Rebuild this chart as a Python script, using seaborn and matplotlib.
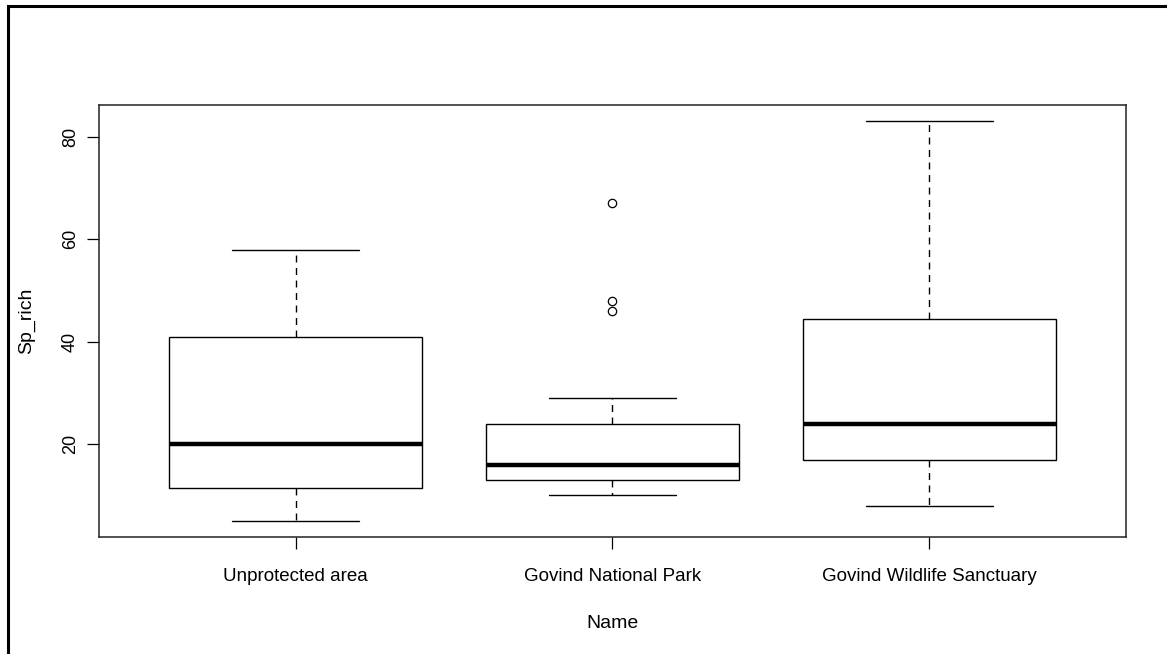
import pandas as pd
import numpy as np
import matplotlib.pyplot as plt
import matplotlib.patches as mpatches
import seaborn as sns

# Species richness per site
names = ["Unprotected area", "Govind National Park", "Govind Wildlife Sanctuary"]
unprotected = [5, 11.5, 20, 41, 58]
national_park = [10, 13, 13, 13, 13, 14, 15, 16, 16, 16, 18, 21, 24, 29, 46, 48, 67]
sanctuary = [8, 17, 24, 44.5, 83]
yticks = [20, 40, 60, 80]

df = pd.DataFrame({
    "Name": [names[0]] * len(unprotected) + [names[1]] * len(national_park) + [names[2]] * len(sanctuary),
    "Sp_rich": unprotected + national_park + sanctuary,
})

sns.set_style("white")
plt.rcParams['font.family'] = ['Liberation Sans', 'DejaVu Sans']
plt.rcParams['text.color'] = 'black'
plt.rcParams['xtick.color'] = 'black'
plt.rcParams['ytick.color'] = 'black'
plt.rcParams['axes.labelcolor'] = 'black'

fig = plt.figure(figsize=(11.67, 6.54), dpi=100)
ax = fig.add_axes([0.0848, 0.1789, 0.8801, 0.6598])

sns.boxplot(data=df, x="Name", y="Sp_rich", order=names, ax=ax,
            width=0.8, color="white", linecolor="black", linewidth=1.0,
            whis=1.5,
            whiskerprops=dict(linestyle=(0, (5, 4))),
            medianprops=dict(linewidth=3.2, color="black"),
            flierprops=dict(marker="o", markerfacecolor="none", markeredgecolor="black",
                            markersize=6, markeredgewidth=0.9))

# R style axes
lo, hi = min(df["Sp_rich"]), max(df["Sp_rich"])
pad = (hi - lo) * 0.04
ax.set_ylim(lo - pad, hi + pad)
ax.set_xlim(-0.62, 2.62)
ax.set_yticks(yticks)
ax.set_yticklabels([str(v) for v in yticks], rotation=90, va="center", fontsize=13)
ax.tick_params(axis="both", direction="out", length=8.5, width=0.9, color="black",
               bottom=True, left=True)
ax.tick_params(axis="y", pad=6)
ax.tick_params(axis="x", pad=14, labelsize=13.5)
for s in ax.spines.values():
    s.set_visible(True)
    s.set_color("#222222")
    s.set_linewidth(1.1)

ax.set_xlabel("Name", fontsize=14)
ax.set_ylabel("Sp_rich", fontsize=14)
ax.xaxis.set_label_coords(0.5, -0.18)
ax.yaxis.set_label_coords(-0.062, 0.5)

# screenshot frame
frame = mpatches.Rectangle((8 / 1167, -0.1), 1.2, 1.1 - 6.5 / 654, transform=fig.transFigure,
                           fill=False, edgecolor="black", linewidth=2.2, clip_on=False)
fig.add_artist(frame)

fig.savefig("out.png", dpi=100)
